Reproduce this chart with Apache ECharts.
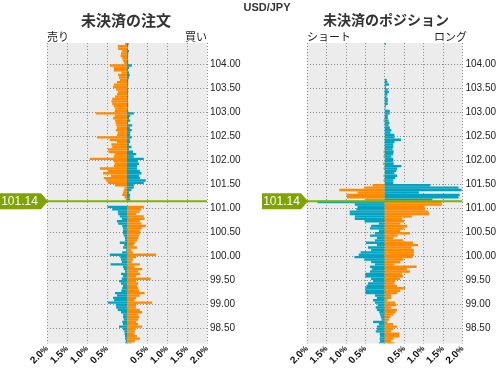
<!DOCTYPE html>
<html><head><meta charset="utf-8">
<script src="https://cdn.jsdelivr.net/npm/echarts@6/dist/echarts.min.js"></script>
<style>html,body{margin:0;padding:0;background:#fff}#c{width:499px;height:368px}</style>
</head><body><div id="c"></div>
<script>
// ---- data ----
const pairName = 'USD/JPY';
const panelTitles = ['未決済の注文', '未決済のポジション'];
const sideLabels = [['売り', '買い'], ['ショート', 'ロング']];
const CURRENT_PRICE = 101.14;
const BUCKET_TOP = 104.45;   // upper edge of first price bucket
const BUCKET_STEP = 0.05;    // bucket size
const priceTicks = [98.5, 99.0, 99.5, 100.0, 100.5, 101.0, 101.5, 102.0, 102.5, 103.0, 103.5, 104.0];
const pctTicks = [-2, -1.5, -1, -0.5, 0, 0.5, 1, 1.5, 2];

// percentages per bucket, from top bucket downward
const orderLeft = [
  .05,.23,.22,.12,.15,.16,.12,.10,.07,.43,
  .33,.33,.14,.22,.20,.18,.25,.33,.35,.27,
  .22,.25,.30,.37,.39,.37,.33,.30,.31,.78,
  .31,.35,.30,.28,.27,.25,.28,.23,.25,.75,
  .43,.25,.39,.37,.48,.46,.31,.33,.93,.33,
  .31,.33,.68,.48,.60,.40,.58,.52,.48,.30,
  .06,.08,.10,.12,.06,.03,0,0,
  .49,.37,.23,.22,.18,.13,.25,.22,.12,.10,.10,.10,
  .08,.05,.05,.18,.07,.10,.02,.12,.43,.17,
  .15,.13,.41,.10,.08,.05,.15,.10,.13,.20,
  .15,.10,.12,.14,.30,.25,.35,.32,.48,.28,
  .27,.23,.15,.10,.10,.08,.12,.10,.20,.10,
  .07,.06,.05,.05,.03,.05
];
const orderRight = [
  .04,.03,.02,.05,.03,.03,.02,.03,.03,.12,
  .05,.03,.05,.07,.05,.03,.03,.03,.02,.03,
  .03,.02,.03,.02,.02,.03,.03,.02,.03,.17,
  .08,.05,.08,.03,.13,.07,.12,.08,.08,.12,
  .07,.08,.05,.11,.05,.15,.23,.17,.42,.27,
  .30,.25,.25,.32,.36,.30,.33,.47,.42,.17,
  .17,.11,.05,.08,.07,.08,0,0,
  .42,.36,.32,.23,.42,.44,.32,.36,.47,.37,.32,.33,
  .30,.28,.25,.20,.17,.25,.11,.15,.73,.23,
  .15,.12,.32,.19,.38,.28,.33,.23,.59,.23,
  .28,.25,.28,.30,.44,.32,.23,.19,.63,.23,
  .22,.32,.38,.27,.30,.28,.23,.28,.38,.22,
  .20,.19,.25,.32,.20,.12
];
const posLeft = [
  0,0,0,0,0,0,0,0,0,0,
  0,0,0,0,0,0,0,0,0,0,
  0,0,0,0,0,0,0,0,0,0,
  0,0,.03,0,0,0,0,0,0,0,
  0,0,0,0,0,.03,0,.03,0,0,
  .04,0,.03,0,0,.03,0,.03,0,.31,
  .53,1.17,.70,.98,.97,.48,1.73,
  .77,.70,.73,.90,.90,.77,.77,.52,.15,.35,.38,.15,.25,
  .38,.20,.25,.48,.20,.43,.35,.62,.67,.78,
  .53,.35,.25,.38,.33,.38,.50,.50,.35,.30,
  .43,.47,.50,.50,.50,.25,.20,.30,.25,.18,
  .23,.20,.14,.12,.10,.08,.30,.15,.20,.20,
  .23,.13,.12,.13,.12,.15
];
const posRight = [
  .03,0,0,0,0,0,0,0,0,0,
  0,0,0,0,0,.05,.07,.11,.03,.08,
  .11,.07,.05,.08,.08,.08,.03,.02,.13,.13,
  .08,.08,.10,.12,.10,.13,.17,.15,.25,.25,
  .42,.25,.22,.22,.20,.23,.22,.17,.22,.22,
  .23,.43,.32,.30,.25,.32,.27,.22,.22,1.17,
  1.90,1.98,.88,1.93,1.90,1.23,1.47,
  1.47,1.03,1.05,1.13,1.15,.70,.45,.50,.40,.58,.50,.40,.65,
  .33,.23,.47,.73,.86,.69,.75,.75,.75,.72,
  .48,.40,.25,.82,.57,.65,.44,.48,.40,.27,
  .25,.32,.53,.40,.32,.17,.17,.07,.27,.30,
  .17,.32,.28,.23,.15,.11,.07,.22,.32,.22,
  .17,.38,.38,.23,.17,.25
];

// ---- style ----
const ORANGE = '#ff8a00', BLUE = '#00a4c2', GREEN = '#84b000', GRIDC = '#8c8c8c';
const LATIN = '"Liberation Sans", Arial, sans-serif';
const CJK = '"Noto Sans CJK JP", sans-serif';
const PLOT_TOP = 43, PLOT_H = 301, PLOT_W = 160;
const LEFTS = [47, 307];
const Y_MAX = 104.444, Y_MIN = 98.173;

const chart = echarts.init(document.getElementById('c'), null, {renderer: 'canvas'});

function bucketData(values, sign) {
  return values.map((v, k) => [
    +(BUCKET_TOP - BUCKET_STEP * (k + 1)).toFixed(3),
    +(BUCKET_TOP - BUCKET_STEP * k).toFixed(3),
    sign * v
  ]);
}
function barSeries(values, sign, idx) {
  return {
    type: 'custom', xAxisIndex: idx, yAxisIndex: idx, clip: true, z: 3,
    encode: {x: 2, y: [0, 1]},
    data: bucketData(values, sign),
    renderItem(params, api) {
      const lo = api.value(0), hi = api.value(1), v = api.value(2);
      if (!v) return null;
      const a = api.coord([0, hi]), b = api.coord([v, lo]);
      const above = (lo + hi) / 2 > CURRENT_PRICE;
      const leftSide = sign < 0;
      const color = (above === leftSide) ? ORANGE : BLUE;
      const shape = echarts.graphic.clipRectByRect({
        x: Math.min(a[0], b[0]), y: a[1], width: Math.abs(b[0] - a[0]), height: b[1] - a[1]
      }, params.coordSys);
      return shape && {type: 'rect', shape, style: {fill: color}};
    }
  };
}
function priceLine(idx) {
  return {
    type: 'line', xAxisIndex: idx, yAxisIndex: idx, z: 5, silent: true,
    symbol: 'none', data: [[-2, CURRENT_PRICE], [2, CURRENT_PRICE]],
    lineStyle: {color: GREEN, width: 2}
  };
}
const dotted = {show: true, lineStyle: {type: [1, 2], color: GRIDC, width: 1}};

const grids = LEFTS.map(l => ({left: l, top: PLOT_TOP, width: PLOT_W, height: PLOT_H,
  show: true, backgroundColor: '#ececec', borderWidth: 0}));
const xAxes = [0, 1].map(i => ({
  type: 'value', gridIndex: i, min: -2, max: 2, interval: 0.5,
  axisLine: {show: false}, axisTick: {show: false}, splitLine: dotted,
  axisLabel: {
    rotate: 45, margin: 4, color: '#111', fontFamily: LATIN, fontSize: 10,
    formatter: v => v === 0 ? '' : '{n|' + Math.abs(v).toFixed(1) + '}{p|%}',
    rich: {n: {fontSize: 10, fontWeight: 'bold', fontFamily: LATIN, color: '#111'},
           p: {fontSize: 8, fontWeight: 'bold', fontFamily: LATIN, color: '#111'}}
  }
}));
const yAxes = [0, 1].map(i => ({
  type: 'value', gridIndex: i, min: Y_MIN, max: Y_MAX, position: 'right',
  axisLine: {show: false}, axisTick: {show: false, customValues: priceTicks},
  splitLine: dotted,
  axisLabel: {customValues: priceTicks, margin: 3, color: '#222', fontFamily: LATIN, fontSize: 10,
    formatter: v => v.toFixed(2)}
}));

chart.setOption({
  animation: false,
  grid: grids, xAxis: xAxes, yAxis: yAxes,
  series: [
    barSeries(orderLeft, -1, 0), barSeries(orderRight, 1, 0), priceLine(0),
    barSeries(posLeft, -1, 1), barSeries(posRight, 1, 1), priceLine(1)
  ]
});

// texts and current price tags
const g = [];
g.push({type: 'text', style: {text: pairName, x: 267, y: 8, align: 'center', verticalAlign: 'middle',
  font: 'bold 11px ' + LATIN, fill: '#333'}});
[0, 1].forEach(i => {
  const l = LEFTS[i];
  g.push({type: 'text', style: {text: panelTitles[i], x: l + PLOT_W / 2 - 1, y: 20, align: 'center',
    verticalAlign: 'middle', font: 'bold ' + (i === 0 ? 15 : 14) + 'px ' + CJK, fill: '#333'}});
  g.push({type: 'text', style: {text: sideLabels[i][0], x: l, y: 37, align: 'left', verticalAlign: 'middle',
    font: '11px ' + CJK, fill: '#222'}});
  g.push({type: 'text', style: {text: sideLabels[i][1], x: l + PLOT_W, y: 37, align: 'right', verticalAlign: 'middle',
    font: '11px ' + CJK, fill: '#222'}});
  const p = chart.convertToPixel({gridIndex: i}, [-2, CURRENT_PRICE]);
  const tip = p[0] + 1, yc = p[1], h = 8;
  const x0 = i === 0 ? 0 : tip - 46;
  g.push({type: 'polygon', z: 10, shape: {points: [[x0, yc - h], [tip - 7, yc - h], [tip, yc], [tip - 7, yc + h], [x0, yc + h]]},
    style: {fill: '#7fa400'}});
  g.push({type: 'text', z: 11, style: {text: CURRENT_PRICE.toFixed(2), x: (x0 + tip - 7) / 2 + (i === 0 ? -1 : 0), y: yc,
    align: 'center', verticalAlign: 'middle', font: '12px ' + LATIN, fill: '#fff'}});
});
chart.setOption({graphic: g});
</script></body></html>
